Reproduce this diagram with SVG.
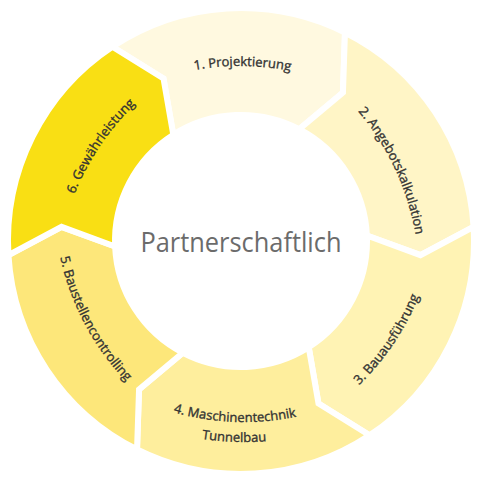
<svg xmlns="http://www.w3.org/2000/svg" width="480" height="480" viewBox="0 0 480 480">
<style>
.seg{stroke:#fff;stroke-width:6;stroke-linejoin:miter}
.lbl{font-family:"Open Sans","Noto Sans",sans-serif;font-size:13px;fill:#333;stroke:#333;stroke-width:0.35}
.ctr{font-family:"Open Sans","Noto Sans",sans-serif;font-size:28px;fill:#6b6b6b}
</style>
<defs>
<path id="tTop1" d="M91.87,113.02 A260,260 0 0 1 390.13,113.02"/>
<path id="tTop2" d="M91.87,118.02 A260,260 0 0 1 390.13,118.02"/>
<path id="tBot3" d="M91.87,377.98 A260,260 0 0 0 390.13,377.98"/>
<path id="tBot4a" d="M91.87,374.98 A260,260 0 0 0 390.13,374.98"/>
<path id="tBot4b" d="M80.40,391.36 A280,280 0 0 0 401.60,391.36"/>
<path id="tBot5" d="M91.87,370.98 A260,260 0 0 0 390.13,370.98"/>
</defs>
<rect width="480" height="480" fill="#fff"/>
<g id="n1">
<path class="seg" fill="#FFF9E0" d="M112.40,46.70 A233,233 0 0 1 344.96,32.48 L342.95,92.66 L299.18,129.24 A126,126 0 0 0 173.30,134.73 L163.51,78.53 Z"/>
<text class="lbl" transform="rotate(0.5 241 241)"><textPath href="#tTop1" startOffset="50%" text-anchor="middle">1. Projektierung</textPath></text>
</g>
<g id="n2">
<path class="seg" fill="#FFF5C6" d="M344.96,32.48 A233,233 0 0 1 473.56,226.78 L420.45,255.12 L366.88,235.50 A126,126 0 0 0 299.18,129.24 L342.95,92.66 Z"/>
<text class="lbl" transform="rotate(65 241 241)"><textPath href="#tTop2" startOffset="50%" text-anchor="middle">2. Angebotskalkulation</textPath></text>
</g>
<g id="n3">
<path class="seg" fill="#FFF3B4" d="M473.56,226.78 A233,233 0 0 1 369.60,435.30 L318.49,403.47 L308.70,347.27 A126,126 0 0 0 366.88,235.50 L420.45,255.12 Z"/>
<text class="lbl" transform="rotate(-56 241 241)"><textPath href="#tBot3" startOffset="50%" text-anchor="middle">3. Bauausführung</textPath></text>
</g>
<g id="n4">
<path class="seg" fill="#FEEE9D" d="M369.60,435.30 A233,233 0 0 1 137.04,449.52 L139.05,389.34 L182.82,352.76 A126,126 0 0 0 308.70,347.27 L318.49,403.47 Z"/>
<text class="lbl" transform="rotate(2 241 241)"><textPath href="#tBot4a" startOffset="50%" text-anchor="middle">4. Maschinentechnik</textPath></text>
<text class="lbl" transform="rotate(2 241 241)"><textPath href="#tBot4b" startOffset="50%" text-anchor="middle">Tunnelbau</textPath></text>
</g>
<g id="n5">
<path class="seg" fill="#FDE77A" d="M137.04,449.52 A233,233 0 0 1 8.44,255.22 L61.55,226.88 L115.12,246.50 A126,126 0 0 0 182.82,352.76 L139.05,389.34 Z"/>
<text class="lbl" transform="rotate(62 241 241)"><textPath href="#tBot5" startOffset="50%" text-anchor="middle">5. Baustellencontrolling</textPath></text>
</g>
<g id="n6">
<path class="seg" fill="#F9DF14" d="M8.44,255.22 A233,233 0 0 1 112.40,46.70 L163.51,78.53 L173.30,134.73 A126,126 0 0 0 115.12,246.50 L61.55,226.88 Z"/>
<text class="lbl" transform="rotate(-56 241 241)"><textPath href="#tTop2" startOffset="50%" text-anchor="middle">6. Gewährleistung</textPath></text>
</g>
<g id="center">
<text class="ctr" x="241" y="251.7" text-anchor="middle" textLength="201" lengthAdjust="spacingAndGlyphs">Partnerschaftlich</text>
</g>
</svg>
